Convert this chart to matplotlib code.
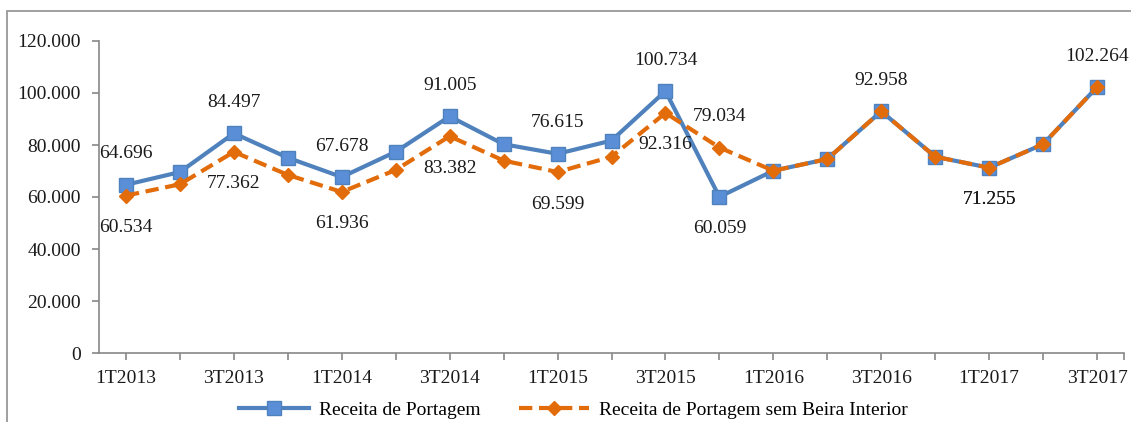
import matplotlib
matplotlib.use('Agg')
import matplotlib.pyplot as plt
from matplotlib.patches import Rectangle

# quarters 1T2013 .. 3T2017
quarters = ['1T2013', '2T2013', '3T2013', '4T2013',
            '1T2014', '2T2014', '3T2014', '4T2014',
            '1T2015', '2T2015', '3T2015', '4T2015',
            '1T2016', '2T2016', '3T2016', '4T2016',
            '1T2017', '2T2017', '3T2017']

receita = [64696, 69600, 84497, 75100, 67678, 77400, 91005, 80300, 76615, 81700,
           100734, 60059, 70100, 74600, 92958, 75500, 71255, 80300, 102264]
receita_sem_bi = [60534, 64900, 77362, 68500, 61936, 70400, 83382, 74000, 69599, 75500,
                  92316, 79034, 70100, 74600, 92958, 75500, 71255, 80300, 102264]

# which points carry a data label: 'a' above, 'b' below
labels_receita = {0: 'a', 2: 'a', 4: 'a', 6: 'a', 8: 'a', 10: 'a', 11: 'b',
                  14: 'a', 16: 'b', 18: 'a'}
labels_sem_bi = {0: 'b', 2: 'b', 4: 'b', 6: 'b', 8: 'b', 10: 'b', 11: 'a', 16: 'b'}

yticks = [0, 20000, 40000, 60000, 80000, 100000, 120000]

blue = '#4F81BD'
orange = '#E36C0A'
font = ['Liberation Serif', 'DejaVu Serif']
plt.rcParams['font.family'] = font


def fmt(v):
    return '{:,}'.format(int(v)).replace(',', '.')


fig = plt.figure(figsize=(11.31, 4.22), dpi=100)
ax = fig.add_axes([99 / 1131, 69 / 422, 1025 / 1131, 312 / 422])

x = list(range(len(quarters)))
ax.plot(x, receita, color=blue, lw=3, marker='s', markersize=10,
        markerfacecolor='#5A8FD8', markeredgecolor=blue, label='Receita de Portagem', zorder=3)
ax.plot(x, receita_sem_bi, color=orange, lw=3, ls=(0, (3.2, 1.6)), marker='D', markersize=7,
        markerfacecolor=orange, markeredgecolor=orange,
        label='Receita de Portagem sem Beira Interior', zorder=4)

for series, labs in ((receita, labels_receita), (receita_sem_bi, labels_sem_bi)):
    for i, pos in labs.items():
        off = 31 if pos == 'a' else -32
        ax.annotate(fmt(series[i]), (x[i], series[i]), xytext=(0, off),
                    textcoords='offset pixels', ha='center', va='center',
                    fontsize=14, color='#1a1a1a')

ax.set_xlim(-0.5, 18.5)
ax.set_ylim(0, 120000)
ax.set_yticks(yticks)
ax.set_yticklabels([fmt(v) for v in yticks])
ax.set_xticks(x + [18.5])
ax.set_xticklabels([q if i % 2 == 0 else '' for i, q in enumerate(quarters)] + [''])

for side in ('top', 'right'):
    ax.spines[side].set_visible(False)
for side in ('left', 'bottom'):
    ax.spines[side].set_color('#888888')
    ax.spines[side].set_linewidth(1.2)
ax.tick_params(axis='both', direction='out', length=5, width=1.2, color='#888888',
               labelsize=14, labelcolor='#1a1a1a')
ax.tick_params(axis='x', pad=7)
ax.tick_params(axis='y', pad=8)

fig.legend(loc='center', bbox_to_anchor=(0.507, 0.028), ncol=2, frameon=False,
           fontsize=14, handlelength=3.6, columnspacing=2.0, handletextpad=0.5)

fig.add_artist(Rectangle((7 / 1131, -0.2), 1.2, 0.2 + 411 / 422, transform=fig.transFigure,
                         fill=False, edgecolor='#999999', lw=1.3))

fig.savefig('out.png', dpi=100)
